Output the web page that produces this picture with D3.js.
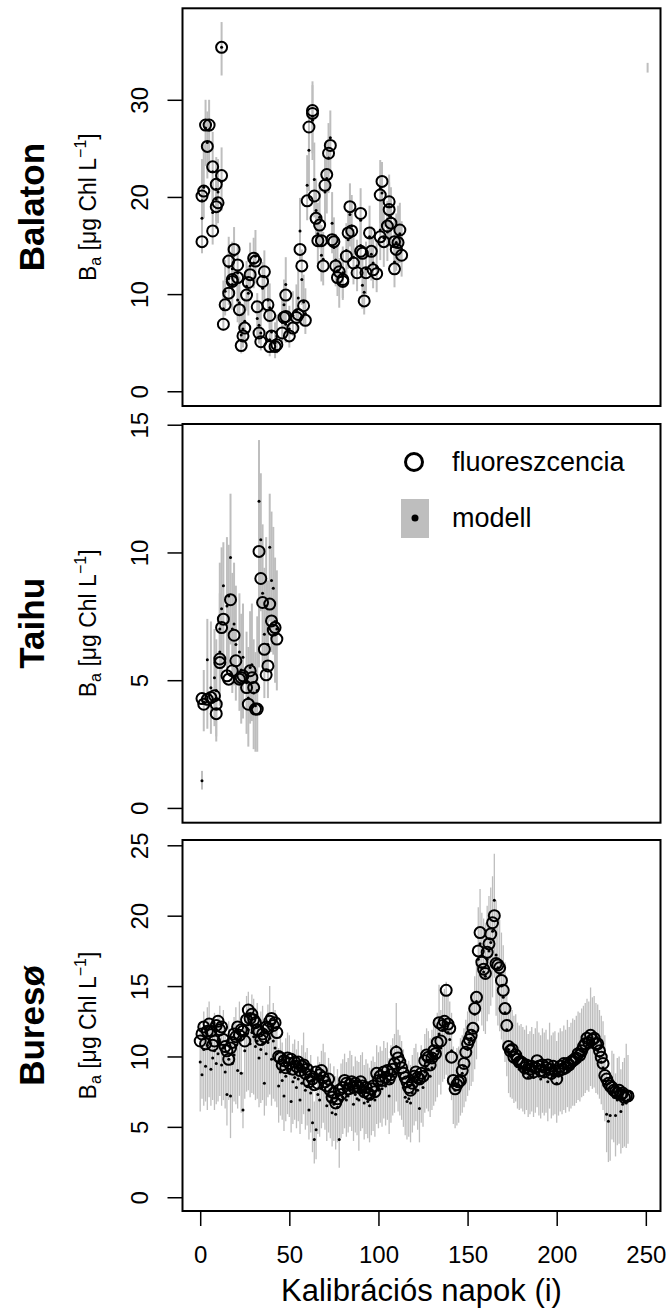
<!DOCTYPE html>
<html>
<head>
<meta charset="utf-8">
<script src="https://cdn.jsdelivr.net/npm/d3@7"></script>
<style>
body { margin: 0; background: #fff; }
text { font-family: "Liberation Sans", Arial, Helvetica, sans-serif; }
</style>
</head>
<body>
<div id="chart"></div>
<script>
// Balaton
const balDay = [1,1,2,3,4,5,7,7,9,9, 10,12,12,13,14,16,16,18,18,19, 21,21,22,23,24,25,26,27,28,30,
  31,32,33,34,35,36,38,39,39,40, 42,43,46,47,48,48,50,52,54,55, 56,57,58,59,60,61,63,63,64,65,
  66,67,68,69,70,71,72,73,74,75, 76,77,78,80,80,82,83,84,85,86, 88,90,90,91,92,93,95,96,97,99,
  101,101,102,103,105,106,106,107,109,109, 110,111,112,113,251]
const balObs = [15.4,20.1,20.6,27.4,25.2,27.4,23.1,16.5,21.3,19.0, 19.4,22.2,35.4,6.9,8.9,10.1,13.4,11.5,11.3,14.6,
  13.0,11.7,8.4,4.7,5.7,6.5,9.9,11.2,12.0,13.7, 13.4,8.7,6.0,5.1,11.3,12.3,8.9,7.8,4.6,5.7,
  4.6,4.8,6.0,7.6,9.9,7.7,5.7,6.5,7.6,7.9, 14.6,12.9,8.8,7.3,19.6,27.2,28.9,28.6,20.1,17.8,
  15.5,17.1,15.5,12.9,21.2,22.3,24.5,25.3,15.6,15.4, 12.9,11.7,12.3,11.3,11.5,13.9,16.3,19.0,16.5,13.2,
  12.2,18.3,14.4,14.2,9.3,12.2,16.3,14.4,12.5,12.1, 20.2,15.9,21.6,15.4,17.0,18.7,19.5,17.3,12.6,15.4,
  14.6,15.3,16.6,14.0,null]
const balMod = [17.8,19.6,21.0,27.1,25.6,26.9,22.6,18.4,20.8,19.8, 20.5,21.6,35.4,8.5,10.3,11.6,12.8,11.0,12.6,14.0,
  12.2,9.4,9.1,5.8,6.4,7.2,10.8,10.1,12.9,13.2, 13.9,7.5,6.8,6.0,10.6,11.8,9.4,8.6,5.3,6.1,
  5.0,5.7,7.1,8.9,11.0,6.9,6.4,7.8,8.3,9.6, 16.5,11.5,9.2,8.0,21.2,24.8,27.9,28.3,21.8,18.6,
  16.2,17.9,14.0,13.6,20.5,21.9,24.0,26.1,17.3,14.8, 13.5,12.4,11.0,11.9,12.2,14.5,15.6,18.2,17.0,13.8,
  12.9,17.6,15.0,10.9,10.2,12.6,15.9,14.1,13.2,12.8, 20.9,16.6,20.4,15.8,16.4,18.1,19.0,17.9,13.3,14.9,
  15.3,16.0,16.2,14.6,null]
const balLo = [14.2,16.5,17.8,23.2,21.9,22.6,19.4,15.1,17.5,16.7, 17.3,18.6,32.5,6.2,7.8,8.9,10.1,8.4,9.7,11.2,
  9.6,7.1,6.8,3.9,4.5,5.1,8.3,7.8,10.2,10.6, 11.1,5.6,4.9,4.2,8.2,9.3,7.1,6.5,3.6,4.3,
  3.4,3.9,5.0,6.6,8.4,5.0,4.5,5.7,6.0,7.2, 13.4,8.9,6.9,5.9,17.6,20.6,23.8,24.5,17.9,15.2,
  13.1,14.7,11.3,10.9,17.0,18.3,20.4,22.4,14.2,12.0, 10.8,9.8,8.6,9.4,9.6,11.7,12.6,14.9,13.9,11.0,
  10.3,14.5,12.2,8.5,7.9,10.0,12.9,11.4,10.6,10.2, 17.3,13.5,16.9,12.8,13.4,14.9,15.7,14.7,10.7,12.1,
  12.4,13.0,13.2,11.8,32.8]
const balHi = [21.5,23.9,25.4,30.0,28.8,30.0,26.7,21.6,24.1,22.9, 23.9,25.1,38.0,11.4,13.5,14.8,15.9,13.9,15.4,16.9,
  15.1,12.3,11.8,8.1,8.9,9.6,13.4,12.9,15.3,15.8, 16.6,10.1,9.2,8.4,13.3,14.5,12.0,11.1,7.4,8.5,
  7.1,7.9,9.5,11.5,13.8,9.3,8.8,10.3,11.0,12.4, 19.9,14.6,12.0,10.6,24.3,28.9,31.9,31.5,25.6,21.9,
  19.4,21.2,17.1,16.4,24.0,25.6,27.6,28.9,20.5,17.9, 16.2,15.1,13.7,14.6,14.9,17.3,18.6,21.4,20.2,16.7,
  15.6,20.9,17.9,13.6,12.8,15.4,19.1,17.0,16.0,15.5, 23.8,19.8,23.6,18.9,19.6,21.5,22.3,21.0,16.0,17.8,
  18.3,19.1,19.4,17.5,33.8]

// Taihu
const taiDay = [1,2,4,6,8,9,9,11,11,12, 13,15,16,17,18,19,20,22,23,24, 26,27,28,29,30,31,32,33,34,35, 36,37,38,39,40,41,42,43]
const taiObs = [4.28,4.06,4.25,4.32,4.39,4.06,3.69,5.69,5.83,7.06, 7.39,5.17,5.04,8.15,5.37,6.76,5.76,5.04,5.10,5.17,
  4.71,4.06,5.37,5.10,4.71,3.87,3.87,10.04,8.98,8.04, 6.21,5.21,5.56,7.98,7.32,6.96,7.06,6.61]
const taiMod = [1.06,4.15,5.8,4.7,5.1,4.6,4.3,6.1,7.0,7.8, 8.7,7.9,8.3,9.8,7.0,7.2,6.4,6.1,5.4,5.9,
  4.9,4.3,5.5,5.6,4.5,4.0,4.6,12.0,10.5,8.4, 6.8,7.9,6.4,10.2,8.9,8.6,7.3,7.0]
const taiLo = [0.72,3.0,3.1,2.9,3.2,2.8,2.6,4.0,4.6,5.1, 5.8,5.3,5.6,6.4,4.5,4.8,4.2,3.8,3.3,3.5,
  2.9,2.4,3.3,3.4,2.3,2.2,2.2,5.5,7.7,5.6, 4.3,5.4,4.3,7.3,6.1,6.0,4.9,4.6]
const taiHi = [1.45,5.4,7.4,7.3,7.0,6.6,6.1,8.4,9.6,10.2, 10.4,10.6,10.3,12.3,9.2,9.6,8.7,8.4,7.6,8.0,
  6.9,6.3,7.7,8.0,6.6,6.1,7.5,14.4,13.1,11.1, 9.4,10.6,8.9,12.3,11.6,11.0,9.8,9.3]

// Buresø, one value per day 0..240
const burObs = [
  11.1,11.6,12.1,10.9,11.8,12.3,11.8,10.8,11.1,12.2,
  12.5,11.9,12.1,11.2,10.7,10.4,9.8,10.6,11.0,11.6,
  11.4,12.1,11.5,11.9,11.8,11.1,12.6,13.3,12.7,13.0,
  12.6,12.4,11.9,11.8,11.2,11.6,11.4,12.1,12.0,12.5,
  12.7,12.2,12.4,11.7,10.0,9.9,9.4,9.7,9.2,9.9,
  9.5,9.8,9.1,9.6,9.3,9.6,9.0,9.3,9.4,8.8,
  9.1,8.2,8.6,8.4,8.0,8.9,8.1,8.7,9.0,8.5,
  8.2,7.9,8.4,7.6,7.1,7.4,6.7,7.0,7.6,7.3,
  7.8,8.3,8.1,7.7,8.0,8.2,7.8,8.1,7.9,7.8,
  8.2,7.9,7.5,7.8,7.4,7.3,7.7,7.9,7.5,8.8,
  8.3,8.6,8.3,8.9,8.5,9.0,8.4,8.7,9.1,9.5,
  10.3,9.9,9.6,9.2,8.8,8.5,8.2,7.8,7.6,8.1,
  8.6,8.9,8.5,8.4,8.8,8.6,9.7,10.1,9.95,9.4,
  9.9,10.4,10.2,11.0,12.4,11.1,12.2,12.5,14.7,12.3,
  12.0,9.95,8.3,7.7,8.0,8.2,8.3,9.0,9.5,10.3,
  10.9,11.2,11.5,12.0,13.4,14.2,17.5,18.8,16.7,16.2,
  15.9,17.4,18.0,18.7,19.5,20.0,16.6,16.5,16.3,15.4,
  14.7,13.4,12.2,10.7,10.4,10.5,9.95,10.1,9.8,9.6,
  9.6,9.5,9.2,9.4,8.8,9.1,9.3,8.9,9.2,9.7,
  9.3,9.0,9.4,8.9,9.2,9.4,9.1,8.8,9.3,9.0,
  8.4,9.0,9.3,9.1,9.5,9.2,9.5,9.4,9.6,9.7,
  9.8,9.9,10.2,10.1,10.4,10.7,10.9,11.3,11.0,11.5,
  11.2,11.3,10.9,10.9,10.4,9.95,9.5,8.65,8.4,8.1,
  7.9,7.8,7.6,7.5,7.4,7.6,7.3,7.4,7.1,7.2,
  7.2]
const burMod = [
  9.6,8.7,10.5,9.3,10.8,11.2,9.1,9.9,10.4,9.5,
  10.2,11.0,9.4,10.6,8.9,7.3,9.8,7.2,9.5,10.1,
  10.8,9.0,11.2,8.8,6.2,10.4,11.6,11.9,10.9,11.7,
  11.4,10.7,11.1,9.9,10.5,10.9,8.1,10.2,11.0,11.3,
  9.8,11.1,10.6,10.2,7.9,8.9,8.3,7.2,8.6,9.0,
  8.8,6.8,8.2,8.5,7.8,8.4,6.9,8.1,9.0,7.6,
  7.9,6.2,7.4,5.3,4.1,4.8,7.3,6.9,7.7,8.2,
  7.6,6.5,7.2,6.8,6.0,6.6,5.9,6.4,4.1,6.8,
  7.1,7.5,6.9,7.2,7.7,7.4,6.6,7.3,7.0,6.9,
  7.4,7.6,6.7,7.1,6.8,6.5,7.0,7.3,6.9,8.1,
  7.6,8.0,7.7,8.4,7.9,8.3,7.2,8.1,8.6,8.9,
  10.7,9.2,8.8,8.4,7.8,7.1,6.8,7.0,6.7,7.4,
  7.9,8.2,7.6,6.3,8.1,7.8,8.9,9.3,9.1,8.6,
  9.2,9.6,9.9,10.4,11.6,10.6,11.9,12.1,12.4,11.7,
  11.2,10.4,8.0,7.6,7.9,8.0,8.6,8.8,9.3,9.9,
  10.5,11.0,11.3,11.8,13.0,13.9,16.9,18.0,16.3,16.0,
  15.7,16.9,17.5,18.1,18.9,21.1,17.2,16.3,15.8,15.0,
  14.2,13.1,11.9,10.5,10.2,10.1,9.7,9.8,9.3,9.1,
  9.2,9.0,8.8,9.1,8.5,8.7,9.0,8.5,8.9,9.3,
  8.6,8.4,8.9,8.6,8.8,8.2,9.2,8.4,8.6,8.7,
  8.1,8.6,8.9,8.7,9.1,8.8,9.3,9.0,9.2,9.4,
  9.4,9.6,9.9,9.8,10.1,10.3,10.5,10.8,10.6,11.2,
  10.9,11.0,10.5,10.4,10.0,9.6,9.2,8.3,5.9,5.4,
  5.8,7.3,7.1,5.8,6.9,7.0,6.1,6.6,6.8,6.7,
  6.9]
const burLo = [
  6.1,7.0,6.5,6.8,6.2,7.1,6.5,6.9,6.2,6.6,
  6.8,7.2,6.5,6.9,6.3,5.1,6.9,4.2,6.0,6.8,
  6.6,6.3,7.2,6.0,4.9,7.0,7.5,7.6,7.1,7.4,
  7.3,6.9,7.0,6.4,6.7,6.9,5.8,6.5,7.1,7.3,
  6.5,7.0,6.8,6.4,5.3,5.8,5.5,4.7,5.4,5.9,
  5.7,4.6,5.2,5.5,4.9,5.4,4.5,5.2,5.9,4.8,
  5.1,4.1,4.6,3.2,2.4,2.7,4.5,4.3,4.9,5.3,
  4.8,4.0,4.6,4.2,3.6,4.0,3.4,3.9,2.1,4.2,
  4.5,4.9,4.3,4.6,5.0,4.7,4.0,4.6,4.4,3.3,
  4.7,4.9,4.1,4.5,4.2,3.9,4.4,4.7,4.3,5.2,
  4.9,5.3,5.0,5.6,5.1,5.5,4.5,5.3,5.8,6.0,
  6.8,6.1,5.8,5.5,5.0,4.4,4.1,4.3,3.9,4.6,
  5.1,5.4,4.8,3.9,5.3,5.0,6.0,6.3,6.1,5.7,
  6.2,6.5,6.8,7.1,8.0,7.3,8.2,8.4,8.7,8.0,
  7.6,6.9,5.2,4.9,5.1,5.3,5.8,6.0,6.4,6.8,
  7.2,7.6,7.9,8.2,9.1,9.8,12.5,13.4,12.2,11.8,
  11.6,12.5,13.0,13.6,14.2,15.6,12.9,12.2,11.8,11.2,
  10.5,9.6,8.6,7.4,7.1,7.0,6.7,6.8,6.3,6.2,
  6.3,6.1,5.9,6.2,5.7,5.9,6.1,5.7,6.0,6.4,
  5.8,5.6,6.0,5.8,6.0,5.4,6.3,5.6,5.8,5.9,
  5.3,5.8,6.1,5.9,6.2,6.0,6.4,6.1,6.3,6.5,
  6.5,6.7,6.9,6.8,7.1,7.2,7.4,7.6,7.5,7.9,
  7.7,7.8,7.4,7.3,7.0,6.6,6.2,5.4,3.2,2.5,
  2.6,4.1,3.9,2.9,3.7,3.8,3.1,3.5,3.6,3.5,
  3.8]
const burHi = [
  12.4,11.6,13.2,12.1,13.5,13.9,11.8,12.6,13.1,12.3,
  12.9,13.6,12.1,13.3,11.6,10.0,12.5,9.9,12.2,12.8,
  13.5,11.8,13.9,11.6,8.9,13.1,14.3,14.6,13.6,14.4,
  14.1,13.4,13.8,12.6,13.2,13.6,10.8,12.9,13.7,15.0,
  12.5,13.8,13.3,12.9,10.6,11.6,11.0,9.9,11.3,11.7,
  11.5,9.5,10.9,11.2,10.5,11.1,9.6,10.8,11.7,10.3,
  10.6,8.9,10.1,8.0,6.8,7.5,10.0,9.6,10.4,10.9,
  10.3,9.2,9.9,9.5,8.7,9.3,8.6,9.1,6.9,9.5,
  9.8,10.2,9.6,9.9,10.4,10.1,9.3,10.0,9.7,9.6,
  10.1,10.3,9.4,9.8,9.5,9.2,9.7,10.0,9.6,10.8,
  10.3,10.7,10.4,11.1,10.6,11.0,9.9,10.8,11.3,11.6,
  13.8,11.9,11.5,11.1,10.5,9.8,9.5,9.7,9.4,10.1,
  10.6,10.9,10.3,9.0,10.8,10.5,11.6,12.0,11.8,11.3,
  11.9,12.3,12.6,13.1,15.1,13.3,14.6,14.8,15.3,14.4,
  13.9,13.1,10.7,10.3,10.6,10.7,11.3,11.5,12.0,12.6,
  13.2,13.7,14.0,14.5,15.7,16.6,20.6,21.9,20.2,19.8,
  19.5,20.7,21.4,22.0,22.8,24.4,21.1,20.2,19.7,18.8,
  17.9,16.7,15.3,13.8,13.4,13.3,12.9,13.0,12.4,12.2,
  12.3,12.1,11.9,12.2,11.6,11.8,12.1,11.6,12.0,12.5,
  11.7,11.5,12.0,11.7,11.9,11.2,12.4,11.5,11.7,11.8,
  11.1,11.7,12.0,11.8,12.2,11.9,12.6,12.1,12.4,12.7,
  12.6,12.9,13.2,13.1,13.4,13.6,13.8,14.1,13.9,14.9,
  14.2,14.3,13.8,13.7,13.3,12.9,12.5,11.5,8.9,8.4,
  8.8,10.4,10.2,8.8,9.9,10.0,9.1,9.6,9.9,10.9,
  10.1]
const burDay = d3.range(burObs.length)

// Axes and labels
const xLim = [0, 248.3]
const xTicks = [0, 50, 100, 150, 200, 250]
const balTicks = [0, 10, 20, 30]
const taiTicks = [0, 5, 10, 15]
const burTicks = [0, 5, 10, 15, 20, 25]
const xTitle = 'Kalibrációs napok (i)'
const legendLabels = ['fluoreszcencia', 'modell']

const width = 668
const height = 1311
const left = 182.5
const right = 660.5

const svg = d3.select('#chart')
    .append('svg')
    .attr('width', width)
    .attr('height', height)

// R style 4% padding of axis limits
function pad(lim) {
    const e = (lim[1] - lim[0]) * 0.04
    return [lim[0] - e, lim[1] + e]
}

const xScale = d3.scaleLinear().domain(pad(xLim)).range([left, right])

const panels = [
    { name: 'Balaton', top: 8.3, bottom: 406, ylim: [0, 37.9], ticks: balTicks, barW: 2,
      day: balDay, obs: balObs, mod: balMod, lo: balLo, hi: balHi },
    { name: 'Taihu', top: 424, bottom: 822.7, ylim: [0, 14.45], ticks: taiTicks, barW: 2,
      day: taiDay, obs: taiObs, mod: taiMod, lo: taiLo, hi: taiHi },
    { name: 'Buresø', top: 840, bottom: 1211, ylim: [0, 24.4], ticks: burTicks, barW: 1.3,
      day: burDay, obs: burObs, mod: burMod, lo: burLo, hi: burHi }
]

panels.forEach(p => {
    const yScale = d3.scaleLinear().domain(pad(p.ylim)).range([p.bottom, p.top])
    const rows = p.day.map((d, i) => ({ day: d, obs: p.obs[i], mod: p.mod[i], lo: p.lo[i], hi: p.hi[i] }))
    const g = svg.append('g')

    // model intervals
    g.append('g')
        .selectAll('line')
        .data(rows)
        .enter()
        .append('line')
        .attr('x1', d => xScale(d.day))
        .attr('x2', d => xScale(d.day))
        .attr('y1', d => yScale(d.lo))
        .attr('y2', d => yScale(d.hi))
        .attr('stroke', '#bebebe')
        .attr('stroke-width', p.barW)

    // model means
    g.append('g')
        .selectAll('circle')
        .data(rows.filter(d => d.mod != null))
        .enter()
        .append('circle')
        .attr('cx', d => xScale(d.day))
        .attr('cy', d => yScale(d.mod))
        .attr('r', 1.5)
        .attr('fill', '#000')

    // fluorescence observations
    g.append('g')
        .selectAll('circle')
        .data(rows.filter(d => d.obs != null))
        .enter()
        .append('circle')
        .attr('cx', d => xScale(d.day))
        .attr('cy', d => yScale(d.obs))
        .attr('r', 5.5)
        .attr('fill', 'none')
        .attr('stroke', '#000')
        .attr('stroke-width', 2)

    g.append('rect')
        .attr('x', left)
        .attr('y', p.top)
        .attr('width', right - left)
        .attr('height', p.bottom - p.top)
        .attr('fill', 'none')
        .attr('stroke', '#000')
        .attr('stroke-width', 2)

    const yAxis = g.append('g')
        .attr('transform', `translate(${left}, 0)`)
        .call(d3.axisLeft(yScale).tickValues(p.ticks).tickSize(15).tickFormat(d3.format('d')))
    yAxis.select('.domain').remove()
    yAxis.selectAll('line').attr('stroke-width', 1.5)
    yAxis.selectAll('text')
        .attr('transform', 'rotate(-90)')
        .attr('x', 0)
        .attr('y', -35)
        .attr('dy', 0)
        .attr('text-anchor', 'middle')
        .attr('font-size', 24)
        .attr('font-family', '"Liberation Sans", Arial, sans-serif')
        .attr('fill', '#000')

    const mid = (p.top + p.bottom) / 2
    g.append('text')
        .attr('transform', `translate(44, ${mid}) rotate(-90)`)
        .attr('text-anchor', 'middle')
        .attr('font-size', 35)
        .attr('font-weight', 'bold')
        .text(p.name)

    const lab = g.append('text')
        .attr('transform', `translate(96, ${mid}) rotate(-90)`)
        .attr('text-anchor', 'middle')
        .attr('font-size', 23)
    lab.append('tspan').text('B')
    lab.append('tspan').attr('font-size', 16).attr('dy', 5).text('a')
    lab.append('tspan').attr('dy', -5).text(' [μg Chl L')
    lab.append('tspan').attr('font-size', 16).attr('dy', -10).text('−1')
    lab.append('tspan').attr('dy', 10).text(']')
})

// x axis on the bottom panel
const xAxis = svg.append('g')
    .attr('transform', `translate(0, ${panels[2].bottom})`)
    .call(d3.axisBottom(xScale).tickValues(xTicks).tickSize(15).tickPadding(20).tickFormat(d3.format('d')))
xAxis.select('.domain').remove()
xAxis.selectAll('line').attr('stroke-width', 1.5)
xAxis.selectAll('text')
    .attr('font-size', 24)
    .attr('font-family', '"Liberation Sans", Arial, sans-serif')
    .attr('fill', '#000')

svg.append('text')
    .attr('x', (left + right) / 2)
    .attr('y', 1301)
    .attr('text-anchor', 'middle')
    .attr('font-size', 31)
    .text(xTitle)

// legend (Taihu panel)
const legend = svg.append('g').attr('id', 'legend')
legend.append('circle')
    .attr('cx', 414).attr('cy', 462).attr('r', 8.5)
    .attr('fill', 'none').attr('stroke', '#000').attr('stroke-width', 3)
legend.append('rect')
    .attr('x', 401).attr('y', 499).attr('width', 28).attr('height', 39)
    .attr('fill', '#bebebe')
legend.append('circle')
    .attr('cx', 415).attr('cy', 518).attr('r', 3.5)
    .attr('fill', '#000')
legend.selectAll('text.lab')
    .data(legendLabels)
    .enter()
    .append('text')
    .attr('class', 'lab')
    .attr('x', 452)
    .attr('y', (d, i) => 462 + i * 56)
    .attr('dy', '0.35em')
    .attr('font-size', 27)
    .text(d => d)
</script>
</body>
</html>
